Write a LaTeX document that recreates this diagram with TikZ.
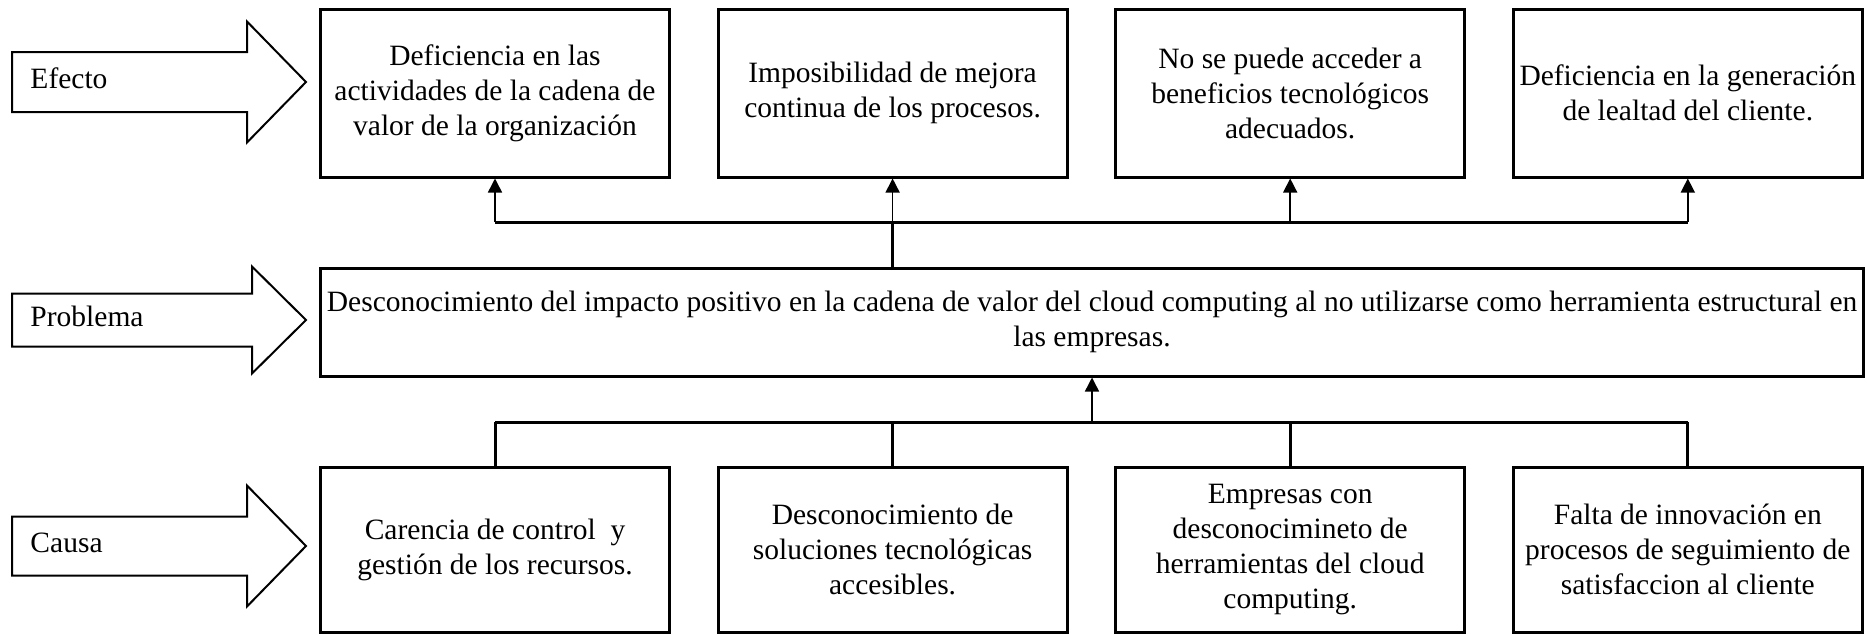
\documentclass[tikz,border=0pt]{standalone}
\usepackage{fontspec}
\setmainfont{Liberation Serif}
\usetikzlibrary{arrows.meta}
\tikzset{
  cajon/.style={draw, line width=1.2pt, minimum width=139.6pt, minimum height=67.2pt, align=center, inner sep=0pt, font=\fontsize{11.8}{14}\selectfont},
  linea/.style={line width=1.2pt},
  flecha/.style={line width=0.6pt, -{Triangle[width=5.6pt,length=5.6pt]}},
  grande/.style={draw, line width=0.8pt, fill=white},
  etiqueta/.style={anchor=base west, inner sep=0pt, font=\fontsize{11.8}{14}\selectfont},
}
\begin{document}
\begin{tikzpicture}[x=0.4pt, y=-0.4pt]
\useasboundingbox (0,0) rectangle (1867,634);
\pgfmathsetmacro\paso{397.6}
\coordinate (arriba) at (0,222);
\coordinate (abajo) at (0,422);
\node[cajon] (e1) at (495,93) {Deficiencia en las\\actividades de la cadena de\\valor de la organización};
\node[cajon] (e2) at ({495+\paso},93) {Imposibilidad de mejora\\continua de los procesos.};
\node[cajon] (e3) at ({495+2*\paso},93) {No se puede acceder a\\beneficios tecnológicos\\adecuados.};
\node[cajon] (e4) at ({495+3*\paso},93) {Deficiencia en la generación\\de lealtad del cliente.};
\node[cajon, minimum width=616.8pt, minimum height=43.2pt] (problema) at (1092,322) {Desconocimiento del impacto positivo en la cadena de valor del cloud computing al no utilizarse como herramienta estructural en\\las empresas.};
\node[cajon, minimum height=66pt] (c1) at (495,549.5) {Carencia de control~ y\\gestión de los recursos.};
\node[cajon, minimum height=66pt] (c2) at ({495+\paso},549.5) {Desconocimiento de\\soluciones tecnológicas\\accesibles.};
\node[cajon, minimum height=66pt] (c3) at ({495+2*\paso},549.5) {Empresas con\\desconocimineto de\\herramientas del cloud\\computing.};
\node[cajon, minimum height=66pt] (c4) at ({495+3*\paso},549.5) {Falta de innovación en\\procesos de seguimiento de\\satisfaccion al cliente};
\draw[linea] (e1 |- arriba) -- (e4 |- arriba);
\draw[linea] (problema.north -| e2) -- (e2 |- arriba);
\foreach \i in {1,...,4} \draw[flecha] (e\i |- arriba) -- (e\i.south);
\draw[linea] (c1 |- abajo) -- (c4 |- abajo);
\foreach \i in {1,...,4} \draw[linea] (c\i.north) -- (c\i |- abajo);
\draw[flecha] (problema.south |- abajo) -- (problema.south);
\foreach \nombre/\yc/\ca/\cb/\xb in {Efecto/82/30/60.5/247, Problema/320/26.5/53.5/252, Causa/546/29.5/60.5/247} {
  \draw[grande] (12,\yc-\ca) -- (\xb,\yc-\ca) -- (\xb,\yc-\cb) -- (306,\yc) -- (\xb,\yc+\cb) -- (\xb,\yc+\ca) -- (12,\yc+\ca) -- cycle;
  \node[etiqueta] (t\nombre) at (30,\yc+6.5) {\nombre};
}
\end{tikzpicture}
\end{document}
